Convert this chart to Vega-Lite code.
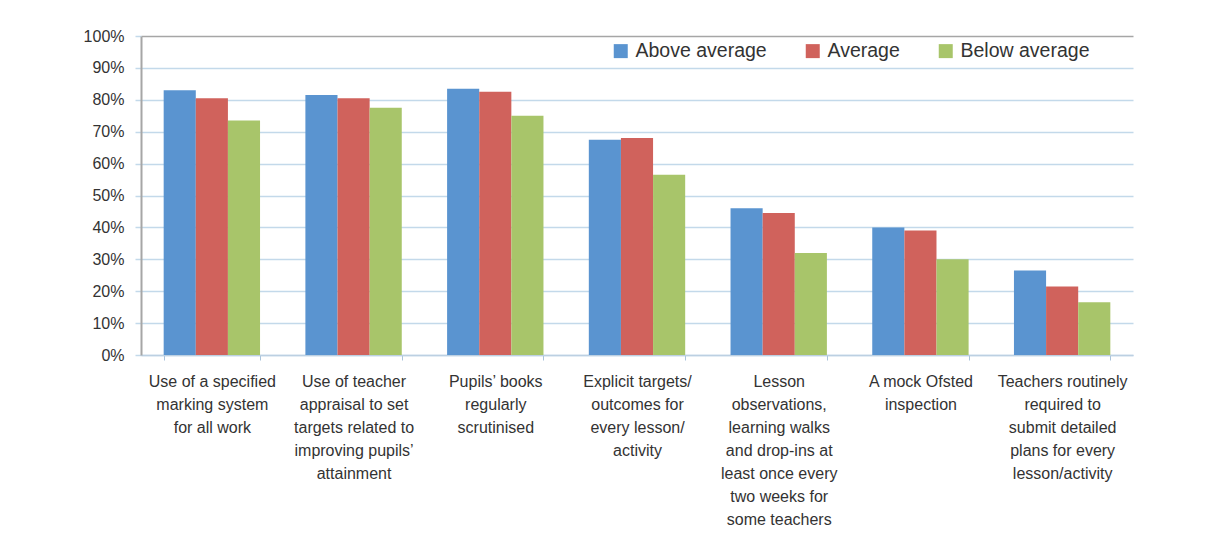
{
  "$schema": "https://vega.github.io/schema/vega-lite/v6.json",
  "width": 992,
  "height": 319,
  "autosize": {"type": "none"},
  "padding": {"left": 141, "top": 36, "right": 79, "bottom": 184},
  "background": "white",
  "config": {
    "view": {"stroke": null},
    "font": "Liberation Sans"
  },
  "data": {
    "values": [
      {"practice": "Use of a specified|marking system|for all work", "group": "Above average", "pct": 83},
      {"practice": "Use of a specified|marking system|for all work", "group": "Average", "pct": 80.5},
      {"practice": "Use of a specified|marking system|for all work", "group": "Below average", "pct": 73.5},
      {"practice": "Use of teacher|appraisal to set|targets related to|improving pupils’|attainment", "group": "Above average", "pct": 81.5},
      {"practice": "Use of teacher|appraisal to set|targets related to|improving pupils’|attainment", "group": "Average", "pct": 80.5},
      {"practice": "Use of teacher|appraisal to set|targets related to|improving pupils’|attainment", "group": "Below average", "pct": 77.5},
      {"practice": "Pupils’ books|regularly|scrutinised", "group": "Above average", "pct": 83.5},
      {"practice": "Pupils’ books|regularly|scrutinised", "group": "Average", "pct": 82.5},
      {"practice": "Pupils’ books|regularly|scrutinised", "group": "Below average", "pct": 75},
      {"practice": "Explicit targets/|outcomes for|every lesson/|activity", "group": "Above average", "pct": 67.5},
      {"practice": "Explicit targets/|outcomes for|every lesson/|activity", "group": "Average", "pct": 68},
      {"practice": "Explicit targets/|outcomes for|every lesson/|activity", "group": "Below average", "pct": 56.5},
      {"practice": "Lesson|observations,|learning walks|and drop-ins at|least once every|two weeks for|some teachers", "group": "Above average", "pct": 46},
      {"practice": "Lesson|observations,|learning walks|and drop-ins at|least once every|two weeks for|some teachers", "group": "Average", "pct": 44.5},
      {"practice": "Lesson|observations,|learning walks|and drop-ins at|least once every|two weeks for|some teachers", "group": "Below average", "pct": 32},
      {"practice": "A mock Ofsted|inspection", "group": "Above average", "pct": 40},
      {"practice": "A mock Ofsted|inspection", "group": "Average", "pct": 39},
      {"practice": "A mock Ofsted|inspection", "group": "Below average", "pct": 30},
      {"practice": "Teachers routinely|required to|submit detailed|plans for every|lesson/activity", "group": "Above average", "pct": 26.5},
      {"practice": "Teachers routinely|required to|submit detailed|plans for every|lesson/activity", "group": "Average", "pct": 21.5},
      {"practice": "Teachers routinely|required to|submit detailed|plans for every|lesson/activity", "group": "Below average", "pct": 16.5}
    ]
  },
  "mark": {"type": "bar"},
  "encoding": {
    "x": {
      "field": "practice",
      "type": "nominal",
      "sort": null,
      "scale": {"paddingInner": 0.32, "paddingOuter": 0.16},
      "axis": {
        "title": null,
        "labelAngle": 0,
        "labelExpr": "split(datum.label, '|')",
        "labelFontSize": 16,
        "labelColor": "#333333",
        "labelLineHeight": 23,
        "labelPadding": 13,
        "labelBaseline": "top",
        "labelLimit": 0,
        "tickBand": "extent",
        "tickSize": 5,
        "tickColor": "#a9c3db",
        "domainColor": "#bcd0e2",
        "domainWidth": 1.5,
        "grid": false
      }
    },
    "xOffset": {
      "field": "group",
      "type": "nominal",
      "sort": ["Above average", "Average", "Below average"],
      "scale": {"paddingInner": 0, "paddingOuter": 0}
    },
    "y": {
      "field": "pct",
      "type": "quantitative",
      "scale": {"domain": [0, 100], "nice": false},
      "axis": {
        "title": null,
        "values": [0, 10, 20, 30, 40, 50, 60, 70, 80, 90, 100],
        "labelExpr": "datum.value + '%'",
        "labelFontSize": 16,
        "labelColor": "#333333",
        "labelPadding": 11,
        "tickSize": 6,
        "tickColor": "#c3d9ea",
        "tickWidth": 1.5,
        "domainColor": "#a6a6a6",
        "domainWidth": 2,
        "grid": true,
        "gridColor": {"condition": {"test": "datum.value === 100", "value": "#a6a6a6"}, "value": "#c3d9ea"},
        "gridWidth": 1.5
      }
    },
    "color": {
      "field": "group",
      "type": "nominal",
      "sort": ["Above average", "Average", "Below average"],
      "scale": {
        "domain": ["Above average", "Average", "Below average"],
        "range": ["#5a94d0", "#d0625c", "#a8c56a"]
      },
      "legend": {
        "title": null,
        "orient": "none",
        "direction": "horizontal",
        "legendX": 470,
        "legendY": 5,
        "symbolType": "square",
        "symbolSize": 196,
        "symbolStrokeWidth": 0,
        "labelFontSize": 19.5,
        "labelColor": "#333333",
        "labelOffset": 5,
        "columnPadding": 36,
        "padding": 0
      }
    }
  }
}
